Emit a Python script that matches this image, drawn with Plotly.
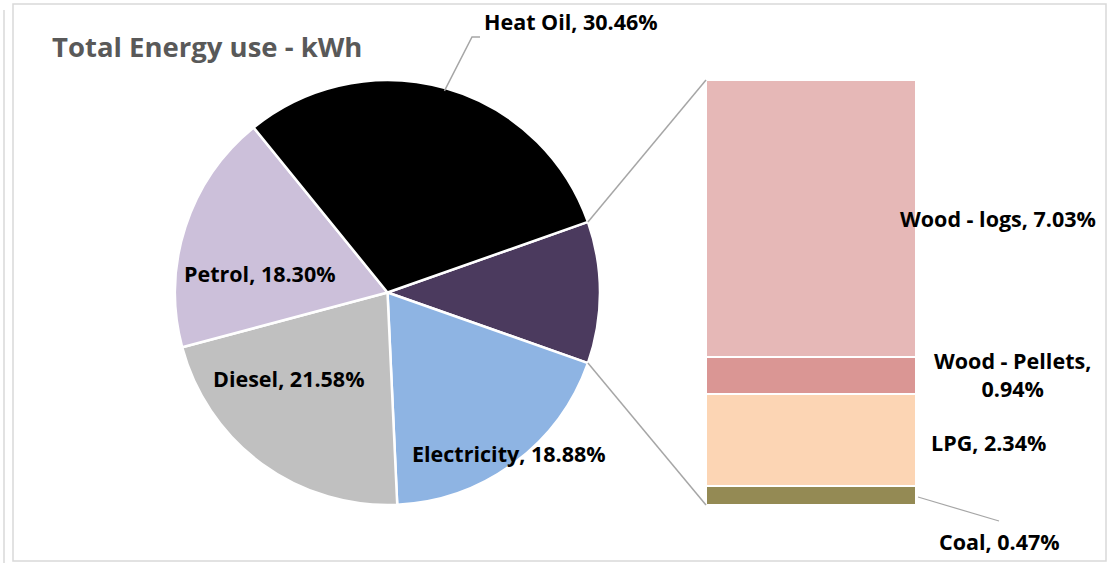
import math
import plotly.graph_objects as go

# Pie categories (share of total energy use, %)
pie_labels = ["Heat Oil", "Electricity", "Diesel", "Petrol"]
pie_values = [30.46, 18.88, 21.58, 18.30]
pie_colors = ["#000000", "#8EB4E3", "#C0C0C0", "#CCC0DA"]

# Breakdown of the "Other" slice shown as a stacked bar (%)
bar_labels = ["Wood - logs", "Wood - Pellets", "LPG", "Coal"]
bar_values = [7.03, 0.94, 2.34, 0.47]
bar_colors = ["#E6B8B7", "#DA9694", "#FCD5B4", "#948A54"]
other_color = "#4B3A5E"

W, H = 1113, 563
FONT = "Open Sans"


def px(x):
    return x / W


def py(y):
    return 1 - y / H


other_total = sum(bar_values)
# slice order: Other first (centred at 3 o'clock), then clockwise
slice_labels = ["Other"] + pie_labels[1:] + [pie_labels[0]]
slice_values = [other_total] + pie_values[1:] + [pie_values[0]]
slice_colors = [other_color] + pie_colors[1:] + [pie_colors[0]]
total = sum(slice_values)
other_deg = other_total / total * 360
rotation = 90 - other_deg / 2

# pie geometry in pixels
cx, cy, r = 387.5, 292.5, 212.5
# bar geometry in pixels
bx0, bx1, by0, by1 = 706, 916, 80, 505

fig = go.Figure()
fig.add_trace(go.Pie(
    labels=slice_labels, values=slice_values, sort=False,
    direction="clockwise", rotation=rotation,
    marker=dict(colors=slice_colors, line=dict(color="white", width=2.5)),
    textinfo="none", hoverinfo="label+percent", showlegend=False,
    domain=dict(x=[px(cx - r), px(cx + r)], y=[py(cy + r), py(cy - r)]),
))

# stacked bar, bottom segment first
for lab, val, col in reversed(list(zip(bar_labels, bar_values, bar_colors))):
    fig.add_trace(go.Bar(
        x=[0], y=[val], name=lab, width=1,
        marker=dict(color=col, line=dict(color="white", width=2)),
        showlegend=False, xaxis="x", yaxis="y",
    ))

shapes = []
# chart border
shapes.append(dict(type="rect", xref="paper", yref="paper",
                   x0=px(13), x1=px(1106), y0=py(561), y1=py(4),
                   line=dict(color="#D9D9D9", width=1.5)))
shapes.append(dict(type="line", xref="paper", yref="paper",
                   x0=px(4), x1=px(4), y0=py(563), y1=py(10),
                   line=dict(color="#D9D9D9", width=1.5)))


def pie_point(clock_deg, rad):
    a = math.radians(clock_deg)
    return cx + rad * math.sin(a), cy - rad * math.cos(a)


# connector lines from the Other slice edges to the bar corners
top_pt = pie_point(rotation, r)
bot_pt = pie_point(rotation + other_deg, r)
for (x0, y0), (x1, y1) in [(top_pt, (bx0, by0)), (bot_pt, (bx0, by1))]:
    shapes.append(dict(type="line", xref="paper", yref="paper",
                       x0=px(x0), y0=py(y0), x1=px(x1), y1=py(y1),
                       line=dict(color="#A6A6A6", width=1.5)))

# leader line for Heat Oil label
heat_mid = rotation + other_deg + sum(pie_values[1:]) / total * 360 + pie_values[0] / total * 360 / 2
hx, hy = pie_point(heat_mid, r - 3)
shapes.append(dict(type="path", xref="paper", yref="paper",
                   path=f"M {px(hx)} {py(hy)} L {px(472)} {py(37)} L {px(480)} {py(37)}",
                   line=dict(color="#A6A6A6", width=1.5)))
# leader line for Coal label
shapes.append(dict(type="line", xref="paper", yref="paper",
                   x0=px(918), y0=py(497), x1=px(999), y1=py(521),
                   line=dict(color="#A6A6A6", width=1.2)))

label_font = dict(family=FONT, size=21.5, color="#000000", weight="bold")


def fmt(name, v):
    return f"{name}, {v:.2f}%"


# label anchor positions in pixels
pie_label_pos = {"Heat Oil": (571, 22), "Electricity": (509, 453),
                 "Diesel": (289, 378), "Petrol": (260, 273)}
bar_label_pos = {"Wood - logs": (998, 218), "Wood - Pellets": (1012, 374),
                 "LPG": (989, 442), "Coal": (999, 541)}

annotations = []
for lab, val in zip(pie_labels, pie_values):
    x, y = pie_label_pos[lab]
    annotations.append(dict(x=px(x), y=py(y), xref="paper", yref="paper",
                            text=fmt(lab, val), showarrow=False, font=label_font,
                            xanchor="center", yanchor="middle"))
for lab, val in zip(bar_labels, bar_values):
    x, y = bar_label_pos[lab]
    text = fmt(lab, val)
    if lab == "Wood - Pellets":
        text = f"{lab},<br>{val:.2f}%"
    annotations.append(dict(x=px(x), y=py(y), xref="paper", yref="paper",
                            text=text, showarrow=False, font=label_font,
                            xanchor="center", yanchor="middle", align="center"))
annotations.append(dict(x=px(50), y=py(46), xref="paper", yref="paper",
                        text="Total Energy use - kWh", showarrow=False,
                        font=dict(family=FONT, size=27.5, color="#595959", weight="bold"),
                        xanchor="left", yanchor="middle"))

fig.update_layout(
    width=W, height=H, margin=dict(l=0, r=0, t=0, b=0),
    paper_bgcolor="white", plot_bgcolor="white",
    barmode="stack", bargap=0,
    xaxis=dict(domain=[px(bx0), px(bx1)], range=[-0.5, 0.5], visible=False, fixedrange=True),
    yaxis=dict(domain=[py(by1), py(by0)], range=[0, other_total], visible=False, fixedrange=True),
    shapes=shapes, annotations=annotations,
)

fig.write_html("out.html")
